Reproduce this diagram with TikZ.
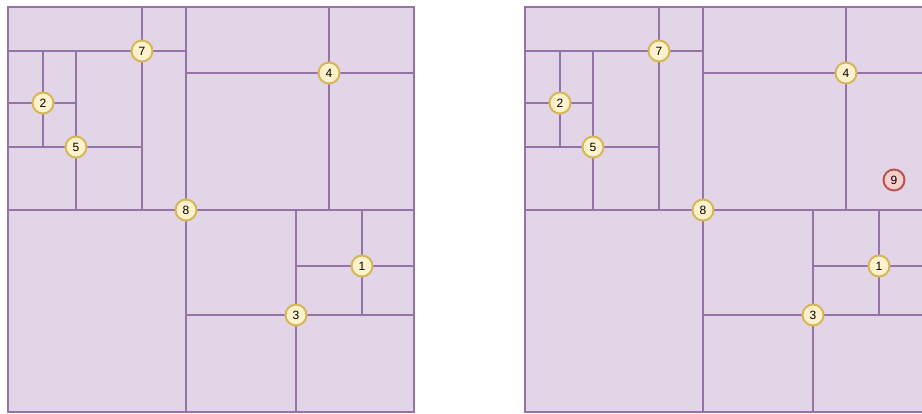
\documentclass[tikz,border=0pt]{standalone}
\usepackage{fontspec}
\setmainfont{Liberation Sans}
\usepackage{xcolor}
\definecolor{cellFill}{HTML}{E1D5E7}
\definecolor{cellLine}{HTML}{9673A6}
\definecolor{ptFill}{HTML}{FFF2CC}
\definecolor{ptLine}{HTML}{D6B656}
\definecolor{newFill}{HTML}{F8CECC}
\definecolor{newLine}{HTML}{B85450}

\begin{document}
\begin{tikzpicture}[
  x=1pt, y=-1pt,
  cell/.style={fill=cellFill, draw=cellLine, line width=2pt},
  cut/.style={draw=cellLine, line width=2pt},
  pt/.style={circle, fill=ptFill, draw=ptLine, line width=2pt,
             minimum size=21pt, inner sep=0pt, font=\fontsize{12}{12}\selectfont},
  newpt/.style={pt, fill=newFill, draw=newLine},
]
  \clip (0,0) rectangle (922,413);
  \fill[white] (0,0) rectangle (922,413);

  \foreach \p/\dx in {a/0, b/517} {
    \begin{scope}[shift={(\dx,0)}]
      % region and split points
      \coordinate (\p nw) at (8,7);
      \coordinate (\p se) at (414,412);
      \coordinate (\p1) at (362,266);
      \coordinate (\p2) at (43,103);
      \coordinate (\p3) at (296,315);
      \coordinate (\p4) at (329,73);
      \coordinate (\p5) at (76,147);
      \coordinate (\p7) at (142,51);
      \coordinate (\p8) at (186,210);
      \filldraw[cell] (\p nw) rectangle (\p se);
      % splitting lines
      \draw[cut] (\p nw |- \p8) -- (\p se |- \p8);
      \draw[cut] (\p8 |- \p nw) -- (\p8 |- \p se);
      \draw[cut] (\p7 |- \p nw) -- (\p7 |- \p8);
      \draw[cut] (\p nw |- \p7) -- (\p7 -| \p8);
      \draw[cut] (\p5 |- \p7) -- (\p5 |- \p8);
      \draw[cut] (\p nw |- \p5) -- (\p5 -| \p7);
      \draw[cut] (\p2 |- \p7) -- (\p2 |- \p5);
      \draw[cut] (\p nw |- \p2) -- (\p2 -| \p5);
      \draw[cut] (\p4 |- \p nw) -- (\p4 |- \p8);
      \draw[cut] (\p8 |- \p4) -- (\p se |- \p4);
      \draw[cut] (\p3 |- \p8) -- (\p3 |- \p se);
      \draw[cut] (\p8 |- \p3) -- (\p se |- \p3);
      \draw[cut] (\p1 |- \p8) -- (\p1 |- \p3);
      \draw[cut] (\p3 |- \p1) -- (\p se |- \p1);
      % points
      \foreach \k in {1,2,3,4,5,7,8}
        \node[pt] (\p n\k) at (\p\k) {\k};
    \end{scope}
  }
  \node[newpt] (bn9) at (894,180) {9};
\end{tikzpicture}
\end{document}
